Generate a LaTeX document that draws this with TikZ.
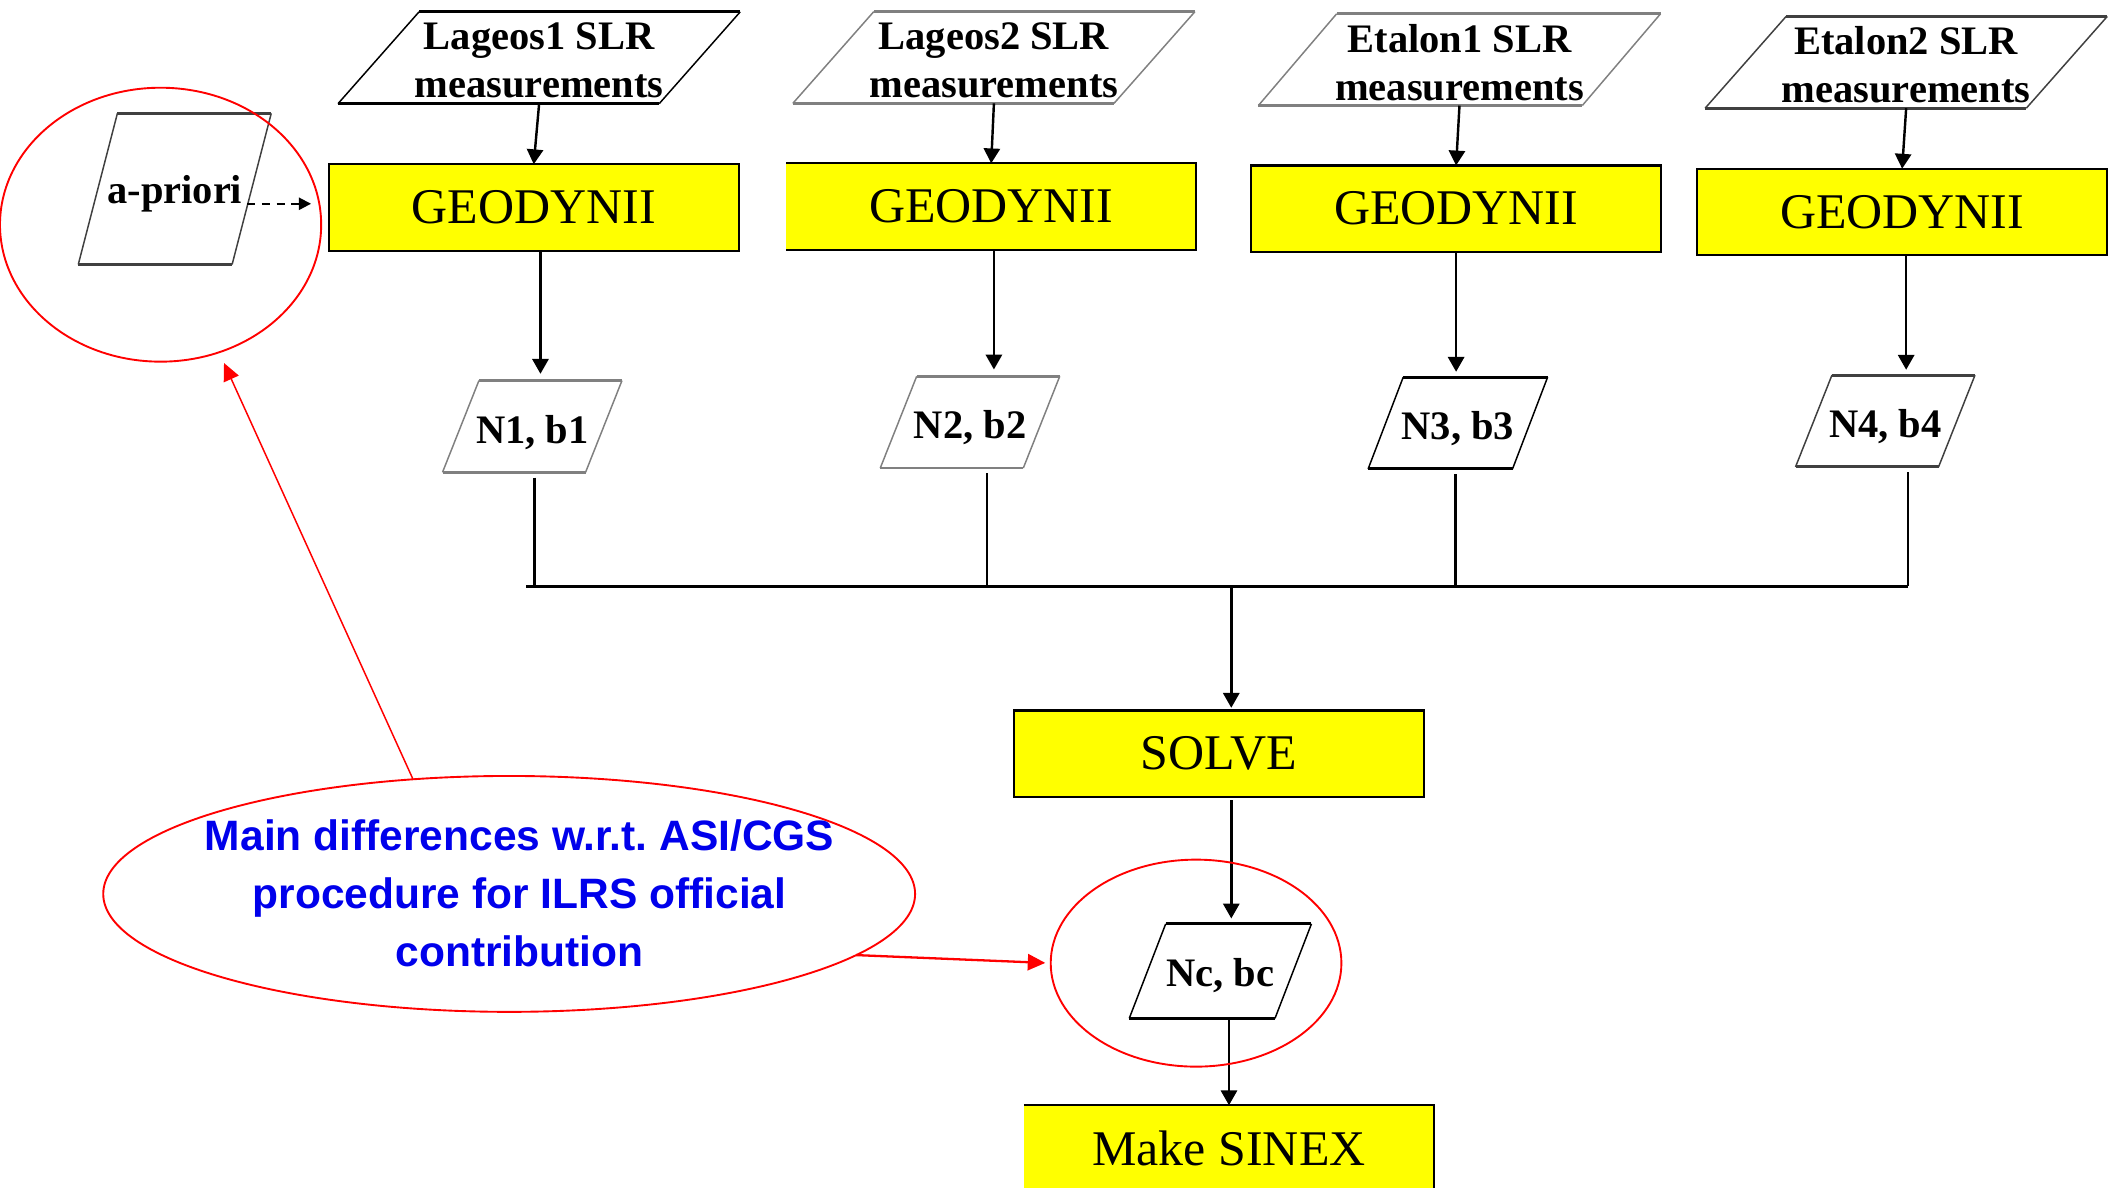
\documentclass[tikz,border=0pt]{standalone}
\usepackage{fontspec}
\setmainfont{Liberation Serif}
\newfontfamily\notefont{Liberation Sans}
\usetikzlibrary{arrows.meta,calc,shapes.geometric}
\definecolor{boxyellow}{RGB}{255,255,0}
\definecolor{noteblue}{RGB}{0,0,235}
\definecolor{notered}{RGB}{255,0,0}
\definecolor{edgegray}{RGB}{128,128,128}
\definecolor{edgedark}{RGB}{64,64,64}
\newcommand\paraoutline[3]{%
  \draw[#3,line width=2.2pt] ($(#1.north west)+(#2,0)$) -- (#1.north east);
  \draw[#3,line width=2.2pt] (#1.south west) -- ($(#1.south east)-(#2,0)$);
  \draw[#3,line width=1.1pt] (#1.south west) -- ($(#1.north west)+(#2,0)$);
  \draw[#3,line width=1.1pt] ($(#1.south east)-(#2,0)$) -- (#1.north east);
}
\newcommand\lowered[1]{\raisebox{-2pt}[\height][\depth]{#1}}
\frenchspacing
\begin{document}
\begin{tikzpicture}[x=1pt,y=-1pt,
  procbox/.style={fill=boxyellow, draw=black, line width=1.6pt, inner sep=0pt, outer sep=0pt,
    minimum width=304pt, minimum height=64pt, font=\fontsize{37}{40}\selectfont},
  procfill/.style={procbox, draw=none},
  datanode/.style={inner sep=0pt, outer sep=0pt, align=center, font=\fontsize{30}{35.4}\selectfont\bfseries},
  measnode/.style={datanode, minimum width=298pt, minimum height=68pt},
  resnode/.style={datanode, minimum width=133pt, minimum height=68pt, text height=25pt, text depth=0pt},
  conn/.style={line width=1.8pt, -{Triangle[length=11pt,width=12pt]}},
  busline/.style={line width=1.8pt},
  redring/.style={draw=notered, line width=1.4pt, ellipse, inner sep=0pt, outer sep=0pt},
  redarrow/.style={draw=notered, -{Triangle[length=13pt,width=12pt]}},
  dasharrow/.style={line width=1.5pt, dash pattern=on 6pt off 5pt, -{Triangle[length=9pt,width=9pt]}}
]
\useasboundingbox (0,0) rectangle (1568,880);

% measurement inputs
\node[measnode] (l1) at (399.5,42.8) {\lowered{Lageos1 SLR}\\\lowered{measurements}};
\node[measnode] (l2) at (736.5,42.6) {\lowered{Lageos2 SLR}\\\lowered{measurements}};
\node[measnode] (e1) at (1081.5,44.2) {\lowered{Etalon1 SLR}\\\lowered{measurements}};
\node[measnode] (e2) at (1412.5,46.2) {\lowered{Etalon2 SLR}\\\lowered{measurements}};
\paraoutline{l1}{60}{black}
\paraoutline{l2}{60}{edgegray}
\paraoutline{e1}{58}{edgegray}
\paraoutline{e2}{60}{edgedark}

% GEODYNII boxes
\node[procbox] (g1) at (395.5,153.7) {GEODYNII};
\node[procfill] (g2) at (734.5,153) {GEODYNII};
\draw[line width=1.6pt] (g2.north west) -- (g2.north east) -- (g2.south east) -- (g2.south west);
\node[procbox] (g3) at (1079,154.6) {GEODYNII};
\node[procbox] (g4) at (1409.5,157) {GEODYNII};

% results
\node[resnode] (n1) at (394.4,316) {N1, b1};
\node[resnode] (n2) at (718.8,312.8) {N2, b2};
\node[resnode] (n3) at (1080.3,313.5) {N3, b3};
\node[resnode] (n4) at (1397,312) {N4, b4};
\paraoutline{n1}{27}{edgegray}
\paraoutline{n2}{27}{edgegray}
\paraoutline{n3}{26}{black}
\paraoutline{n4}{27}{edgedark}

% a-priori
\node[datanode, minimum width=143pt, minimum height=112pt, text height=22pt, text depth=0pt] (ap) at (129.5,140) {a-priori};
\paraoutline{ap}{29}{edgedark}

% solve chain
\node[procbox] (solve) at (903.4,558.5) {SOLVE};
\node[resnode, minimum width=135pt, minimum height=70pt, text height=22.5pt] (nc) at (904.3,719.6) {Nc, bc};
\paraoutline{nc}{27}{black}
\node[procfill] (sinex) at (910.7,851) {Make SINEX};
\draw[line width=1.6pt] (sinex.north west) -- (sinex.north east) -- (sinex.south east);

% connectors
\draw[conn] (l1.south) -- (g1.north);
\draw[conn] (l2.south) -- (g2.north);
\draw[conn] (e1.south) -- (g3.north);
\draw[conn] (e2.south) -- (g4.north);
\draw[conn, shorten >=5pt] ([xshift=5pt]g1.south) -- ([xshift=5pt]g1.south |- n1.north);
\draw[conn, shorten >=5pt] ([xshift=2pt]g2.south) -- ([xshift=2pt]g2.south |- n2.north);
\draw[conn, shorten >=4pt] (g3.south) -- (g3.south |- n3.north);
\draw[conn, shorten >=4pt] ([xshift=3pt]g4.south) -- ([xshift=3pt]g4.south |- n4.north);

\coordinate (bL) at (390,434.5);
\coordinate (b1) at (396,434.5);
\coordinate (b2) at (731.5,434.5);
\coordinate (b3) at (1078.5,434.5);
\coordinate (b4) at (1414,434.5);
\coordinate (j) at (912.4,434.5);
\draw[busline, shorten <=4pt] (n1.south -| b1) -- (b1);
\draw[busline, shorten <=4pt] (n2.south -| b2) -- (b2);
\draw[busline, shorten <=4pt] (n3.south -| b3) -- (b3);
\draw[busline, shorten <=4pt] (n4.south -| b4) -- (b4);
\draw[busline] (bL) -- (b4);
\draw[conn, shorten >=2pt] (j) -- (j |- solve.north);
\draw[conn, shorten <=2.5pt, shorten >=4pt] (solve.south -| j) -- (nc.north -| j);
\draw[conn] (nc.south -| sinex.north) -- (sinex.north);

\coordinate (apR) at (183,151);
\draw[dasharrow, shorten >=13pt] (apR) -- (g1.west |- apR);

% annotations
\node[redring, minimum width=238pt, minimum height=203pt] (ell3) at (119,166.5) {};
\node[redring, minimum width=215.4pt, minimum height=153.4pt] (ell2) at (886.3,713.7) {};
\node[redring, minimum width=601.6pt, minimum height=174.8pt] (ell1) at (377.3,662.4) {};
\node[font=\notefont\fontsize{31.5}{43}\selectfont\bfseries, text=noteblue, align=center, inner sep=0pt] (note) at (385,662)
  {Main differences w.r.t. ASI/CGS\\procedure for ILRS official\\contribution};
\coordinate (tipA) at (166,269);
\draw[redarrow, line width=1.1pt] (ell1.130.8) -- (tipA);
\draw[redarrow, line width=1.7pt, shorten >=4pt] (ell1.-10.2) -- (ell2.west);
\end{tikzpicture}
\end{document}
